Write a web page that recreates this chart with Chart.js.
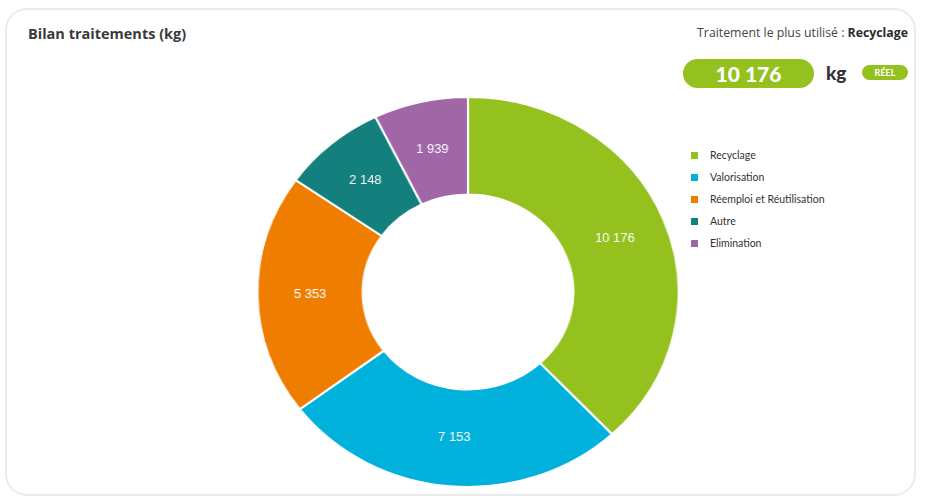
<!DOCTYPE html>
<html lang="fr">
<head>
<meta charset="utf-8">
<script src="https://cdn.jsdelivr.net/npm/chart.js@4/dist/chart.umd.min.js"></script>
<style>
  html, body { margin: 0; padding: 0; background: #fff; }
  body { width: 926px; height: 501px; position: relative; overflow: hidden; font-family: Lato, "Open Sans", sans-serif; color: #333; }
  .card { position: absolute; left: 5px; top: 8px; width: 911px; height: 488px; border: 2px solid #ebebeb; border-radius: 22px; box-sizing: border-box; }
  .title { position: absolute; left: 28px; top: 24px; font-family: "Open Sans", sans-serif; font-size: 14.5px; font-weight: 700; color: #3a3a3a; }
  .best { position: absolute; right: 18px; top: 24px; font-family: "Open Sans", sans-serif; font-size: 12.3px; color: #444; }
  .best b { color: #2b2b2b; }
  .pill { position: absolute; left: 683px; top: 59px; width: 131px; height: 29px; border-radius: 15px; background: #95c11f; color: #fff; font-weight: 900; font-size: 21px; line-height: 29px; text-align: center; }
  .unit { position: absolute; left: 826px; top: 61px; font-size: 19px; font-weight: 900; color: #333; }
  .reel { position: absolute; left: 862px; top: 65px; width: 46px; height: 15px; border-radius: 8px; background: #95c11f; color: #fff; font-size: 9px; font-weight: 700; line-height: 15px; text-align: center; }
  .chart-box { position: absolute; left: 267.5px; top: 96px; width: 400px; height: 392px; transform: scaleX(1.08); transform-origin: center center; }
  #legend { position: absolute; left: 691px; top: 144px; margin: 0; padding: 0; list-style: none; }
  #legend li { height: 22px; display: flex; align-items: center; font-size: 10.5px; color: #333; }
  #legend span { display: inline-block; width: 7px; height: 7px; margin-right: 12px; }
</style>
</head>
<body>
<div class="card"></div>
<div class="title">Bilan traitements (kg)</div>
<div class="best">Traitement le plus utilisé : <b>Recyclage</b></div>
<div class="pill" id="total"></div>
<div class="unit">kg</div>
<div class="reel">RÉEL</div>
<div class="chart-box"><canvas id="bilanChart" width="400" height="392"></canvas></div>
<ul id="legend"></ul>

<script>
var treatment_labels = ['Recyclage', 'Valorisation', 'Réemploi et Réutilisation', 'Autre', 'Elimination'];
var treatment_values = [10176, 7153, 5353, 2148, 1939];
var treatment_colors = ['#95c11f', '#00b1db', '#ef7d00', '#13807e', '#a066a6'];

function fmt_fr(v) {
    return String(v).replace(/\B(?=(\d{3})+(?!\d))/g, ' ');
}

// Most used treatment shown in the green pill
var best = 0;
for (var i = 1; i < treatment_values.length; i++) {
    if (treatment_values[i] > treatment_values[best]) best = i;
}
document.getElementById('total').textContent = fmt_fr(treatment_values[best]);

var slice_labels = {
    id: 'slice_labels',
    afterDatasetsDraw(chart) {
        var ctx = chart.ctx;
        var meta = chart.getDatasetMeta(0);
        ctx.save();
        ctx.fillStyle = '#ffffff';
        ctx.font = '12px "Liberation Sans", Arial, sans-serif';
        ctx.textAlign = 'center';
        ctx.textBaseline = 'middle';
        meta.data.forEach(function(arc, i) {
            var p = arc.tooltipPosition();
            ctx.fillText(fmt_fr(chart.data.datasets[0].data[i]), p.x, p.y);
        });
        ctx.restore();
    }
};

var bilan_config = {
    type: 'doughnut',
    data: {
        labels: treatment_labels,
        datasets: [{
            data: treatment_values,
            backgroundColor: treatment_colors,
            borderColor: '#ffffff',
            borderWidth: 2
        }]
    },
    options: {
        responsive: false,
        animation: false,
        cutout: '50%',
        layout: { padding: 0 },
        plugins: {
            legend: { display: false },
            tooltip: { enabled: false }
        }
    },
    plugins: [slice_labels]
};

var myChart = new Chart(document.getElementById('bilanChart'), bilan_config);

// html legend from the chart's own legend items
var items = Chart.overrides.doughnut.plugins.legend.labels.generateLabels(myChart);
var ul = document.getElementById('legend');
items.forEach(function(item) {
    var li = document.createElement('li');
    var box = document.createElement('span');
    box.style.background = item.fillStyle;
    li.appendChild(box);
    li.appendChild(document.createTextNode(item.text));
    ul.appendChild(li);
});
</script>
</body>
</html>
